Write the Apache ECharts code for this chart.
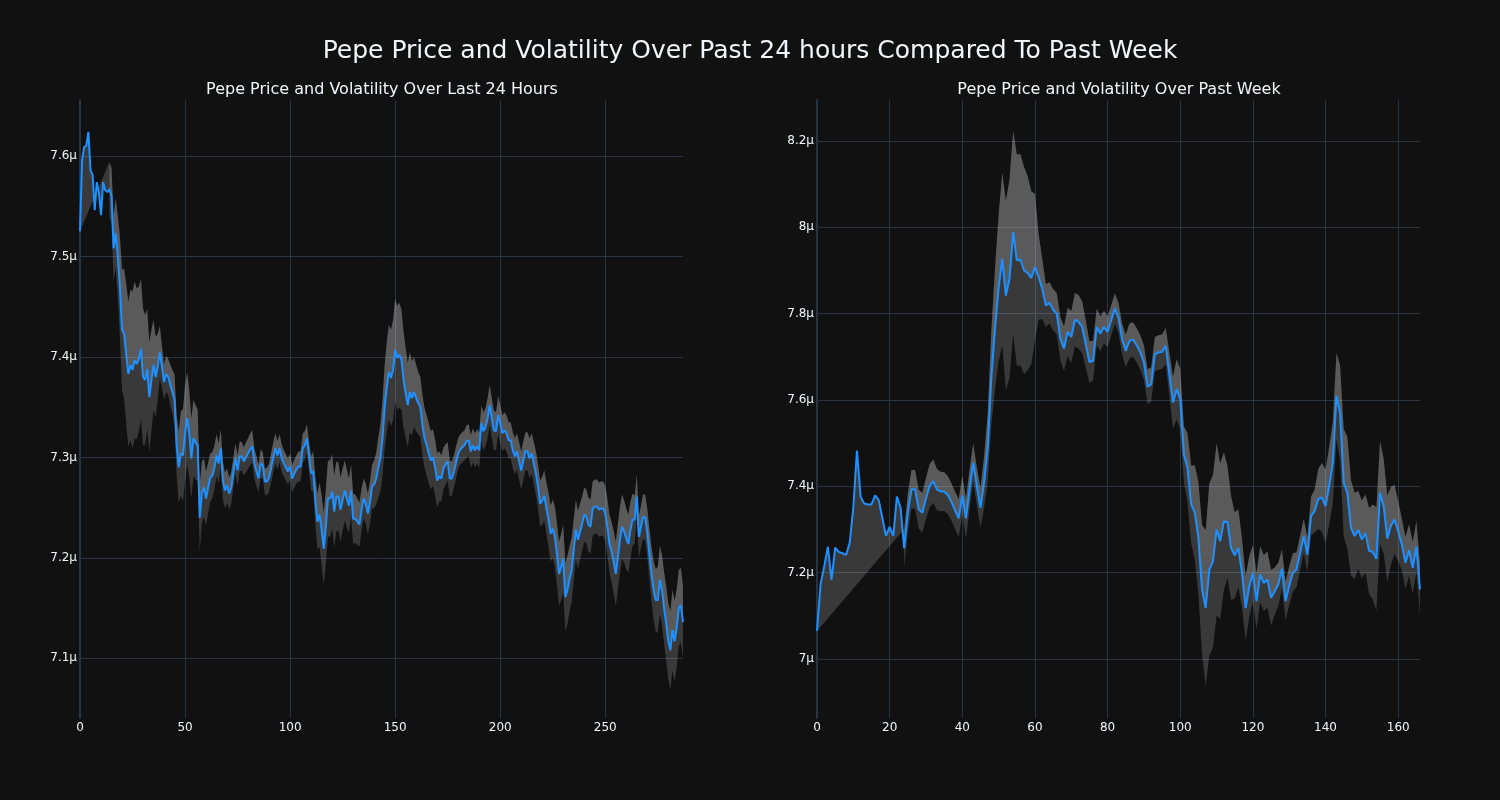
<!DOCTYPE html>
<html>
<head>
<meta charset="utf-8">
<script src="https://cdn.jsdelivr.net/npm/echarts@6/dist/echarts.min.js"></script>
<style>
html,body{margin:0;padding:0;background:#111111;}
#chart{width:1500px;height:800px;}
</style>
</head>
<body>
<div id="chart"></div>
<script>
// ---------------- DATA (price in µ units) ----------------
const mainTitle = 'Pepe Price and Volatility Over Past 24 hours Compared To Past Week';
const dayTitle = 'Pepe Price and Volatility Over Last 24 Hours';
const weekTitle = 'Pepe Price and Volatility Over Past Week';

const dayXTicks = [0, 50, 100, 150, 200, 250];
const weekXTicks = [0, 20, 40, 60, 80, 100, 120, 140, 160];

// Last 24 hours: price (index 0..287)
const dayPrice = [
7.525,7.596,7.609,7.610,7.624,7.586,7.581,7.546,7.574,7.563,
7.541,7.574,7.566,7.564,7.567,7.560,7.508,7.523,7.500,7.470,
7.427,7.423,7.403,7.383,7.392,7.387,7.397,7.393,7.398,7.408,
7.380,7.377,7.388,7.360,7.377,7.392,7.380,7.390,7.405,7.390,
7.375,7.383,7.380,7.372,7.365,7.357,7.312,7.290,7.304,7.302,
7.324,7.339,7.324,7.299,7.319,7.315,7.312,7.240,7.265,7.270,
7.259,7.270,7.280,7.282,7.290,7.302,7.294,7.309,7.277,7.267,
7.272,7.264,7.270,7.285,7.299,7.287,7.301,7.301,7.296,7.300,
7.304,7.308,7.311,7.294,7.286,7.279,7.294,7.292,7.276,7.276,
7.280,7.290,7.300,7.309,7.302,7.309,7.299,7.294,7.290,7.286,
7.291,7.279,7.284,7.288,7.291,7.291,7.309,7.312,7.319,7.301,
7.284,7.286,7.257,7.236,7.243,7.228,7.209,7.231,7.259,7.259,
7.266,7.246,7.261,7.261,7.248,7.258,7.267,7.259,7.252,7.267,
7.239,7.239,7.236,7.233,7.248,7.259,7.254,7.244,7.255,7.271,
7.273,7.279,7.290,7.300,7.320,7.350,7.370,7.385,7.379,7.387,
7.407,7.399,7.402,7.397,7.377,7.364,7.352,7.365,7.359,7.365,
7.359,7.354,7.350,7.332,7.319,7.312,7.304,7.297,7.300,7.290,
7.277,7.281,7.279,7.289,7.293,7.296,7.279,7.279,7.286,7.295,
7.304,7.308,7.310,7.312,7.316,7.317,7.306,7.312,7.307,7.311,
7.307,7.334,7.326,7.330,7.339,7.352,7.339,7.327,7.326,7.342,
7.334,7.324,7.327,7.324,7.317,7.317,7.307,7.301,7.306,7.296,
7.287,7.297,7.306,7.306,7.299,7.304,7.294,7.284,7.271,7.254,
7.257,7.262,7.249,7.238,7.224,7.229,7.221,7.204,7.184,7.191,
7.199,7.161,7.168,7.179,7.188,7.208,7.228,7.218,7.226,7.234,
7.243,7.241,7.233,7.231,7.249,7.251,7.251,7.248,7.249,7.249,
7.244,7.231,7.214,7.206,7.196,7.184,7.201,7.218,7.231,7.226,
7.219,7.214,7.228,7.238,7.238,7.261,7.221,7.231,7.241,7.240,
7.225,7.204,7.184,7.168,7.158,7.158,7.178,7.168,7.150,7.135,
7.117,7.108,7.128,7.117,7.130,7.150,7.153,7.136
];
// Last 24 hours: volatility (band half-width), null before the band starts
const dayVol = [
null,null,null,null,null,null,null,null,null,null,
null,null,null,null,
.027,.028,.032,.035,.04,.05,.06,.065,.07,.072,
.075,.078,.078,.075,.072,.07,.068,.065,.06,.055,
.05,.045,.04,.033,.026,.021,.018,.018,.018,.02,
.022,.026,.03,.036,.042,.046,.048,.046,.043,.04,
.038,.037,.036,.034,.031,.029,.027,.025,.024,.023,
.022,.021,.02,.019,.019,.018,.017,
.016,.016,.015,.015,.015,.015,.014,.014,.015,.015,
.016,.016,.015,.015,.014,.014,.013,.013,.014,.014,
.015,.015,.015,.014,.014,.014,.013,.013,.013,.013,
.014,.014,.014,.015,.015,.015,.014,.014,.015,.017,
.02,.024,.028,.032,.035,.036,.037,.038,.038,.037,
.036,.035,.034,.032,.031,.03,.029,.027,.026,.025,
.024,.023,.022,.021,.02,.02,.02,.021,.022,.024,.026,.03,
.034,.038,.042,.045,.047,.048,.05,.051,.052,.052,.05,.048,.045,.042,.04,.037,
.035,.033,.031,.03,.03,.03,.03,.03,.029,.028,.028,.027,
.025,.023,.021,.02,.019,.018,.017,.016,.016,.015,
.015,.015,.015,.016,.016,.016,.017,.017,.017,.018,
.018,.019,.019,.02,.02,.02,.02,.019,.019,.019,.018,.018,.018,.018,.018,
.018,.018,.018,.019,.019,.019,.019,.019,.02,.02,.021,.022,.022,.023,.024,
.025,.026,.027,.028,.029,.03,.031,.032,.033,.034,.034,.034,.033,.032,.031,
.03,.029,.028,.027,.027,.027,.027,.027,.027,.027,.027,.027,.027,.027,.028,
.028,.029,.03,.031,.032,.033,.033,.032,.031,.03,.029,.028,
.026,.024,.022,.021,.021,.022,.023,.024,.025,.027,
.029,.031,.033,.034,.035,.036,.037,.038,.039,.04,.04,.039,.038,.037,.036
];

// Past week: price (index 0..166)
const weekPrice = [
7.065,7.174,7.215,7.260,7.183,7.258,7.248,7.245,7.241,7.269,
7.351,7.483,7.376,7.360,7.358,7.358,7.379,7.368,7.326,7.285,
7.306,7.285,7.376,7.351,7.256,7.339,7.393,7.393,7.347,7.339,
7.372,7.401,7.412,7.393,7.388,7.388,7.380,7.364,7.345,7.326,
7.379,7.326,7.393,7.455,7.400,7.350,7.410,7.490,7.653,7.765,
7.860,7.927,7.842,7.881,7.989,7.924,7.925,7.900,7.894,7.883,
7.908,7.885,7.858,7.819,7.825,7.809,7.800,7.742,7.719,7.758,
7.746,7.786,7.781,7.769,7.729,7.688,7.691,7.769,7.754,7.769,
7.758,7.785,7.812,7.790,7.741,7.714,7.737,7.740,7.727,7.710,
7.687,7.631,7.636,7.706,7.710,7.712,7.725,7.660,7.594,7.625,
7.602,7.474,7.443,7.358,7.339,7.280,7.161,7.118,7.207,7.226,
7.300,7.273,7.319,7.317,7.257,7.240,7.257,7.199,7.118,7.168,
7.199,7.134,7.196,7.176,7.184,7.142,7.157,7.173,7.209,7.134,
7.170,7.200,7.207,7.246,7.285,7.242,7.331,7.343,7.371,7.374,
7.354,7.401,7.455,7.609,7.571,7.408,7.385,7.304,7.285,7.299,
7.277,7.291,7.250,7.248,7.232,7.385,7.354,7.279,7.309,7.323,
7.296,7.265,7.223,7.252,7.211,7.260,7.161
];
// Past week: volatility (band half-width)
const weekVol = [
null,null,null,null,null,null,null,null,null,null,
null,null,null,null,null,null,null,null,null,null,
null,null,null,null,
.045,.045,.045,.045,.045,.046,
.048,.05,.05,.048,.046,.045,.044,.043,.043,.044,
.045,.046,.046,.045,.044,.046,.06,.08,.11,.14,
.17,.2,.22,.23,.235,.245,.245,.24,.225,.2,
.17,.1,.07,.05,.048,.048,.048,.05,.052,.056,
.06,.062,.062,.06,.055,.048,.046,.043,.04,.038,
.036,.035,.035,.035,.036,.038,.04,.04,.04,.04,
.04,.04,.04,.04,.04,.04,.042,.05,.06,.07,
.07,.065,.08,.09,.11,.13,.15,.18,.2,.2,
.2,.18,.16,.13,.12,.1,.09,.08,.075,.07,
.065,.065,.065,.065,.065,.065,.055,.05,.045,.045,
.045,.045,.04,.04,.04,.04,.045,.05,.07,.08,
.085,.09,.095,.1,.11,.125,.13,.11,.1,.09,
.09,.09,.1,.11,.12,.12,.11,.1,.09,.08,
.07,.06,.06,.06,.06,.06,.06
];

// ---------------- CHART ----------------
const FONT = 'DejaVu Sans';
const TXT = '#f2f5fa';
const GRID = '#283442';
const LINE = '#1E90FF';
const BAND = 'rgba(255,255,255,0.17)';

function bandRenderer(price, vol) {
  return function (params, api) {
    const pricePts = [], upper = [], lower = [];
    for (let i = 0; i < price.length; i++) {
      pricePts.push(api.coord([i, price[i]]));
      if (vol[i] != null) {
        upper.push(api.coord([i, price[i] + vol[i]]));
        lower.push(api.coord([i, price[i] - vol[i]]));
      }
    }
    const polyA = pricePts.concat(upper.slice().reverse());
    const polyB = upper.concat(lower.slice().reverse());
    return {
      type: 'group',
      children: [
        { type: 'polygon', shape: { points: polyA }, style: { fill: BAND } },
        { type: 'polygon', shape: { points: polyB }, style: { fill: BAND } }
      ]
    };
  };
}

function yFmt(v) { return parseFloat(v.toFixed(1)) + 'µ'; }

function xAxisCfg(idx, max, interval) {
  return {
    type: 'value', gridIndex: idx, min: 0, max: max, interval: interval,
    axisLine: { show: false }, axisTick: { show: false },
    axisLabel: { color: TXT, fontFamily: FONT, fontSize: 12, margin: 4, showMaxLabel: false },
    splitLine: { show: true, showMaxLine: false, lineStyle: { color: GRID, width: 1 } }
  };
}
function yAxisCfg(idx, min, max, split) {
  return {
    type: 'value', gridIndex: idx, min: min, max: max, splitNumber: split,
    axisLine: { show: true, lineStyle: { color: GRID, width: 2 } },
    axisTick: { show: false },
    axisLabel: { color: TXT, fontFamily: FONT, fontSize: 12, margin: 3, showMinLabel: false, showMaxLabel: false, formatter: yFmt },
    splitLine: { show: true, showMinLine: false, showMaxLine: false, lineStyle: { color: GRID, width: 1 } }
  };
}

const chart = echarts.init(document.getElementById('chart'), null, { renderer: 'canvas' });
chart.setOption({
  backgroundColor: '#111111',
  animation: false,
  title: [
    { text: mainTitle, left: 745, top: 34, textAlign: 'center',
      textStyle: { color: TXT, fontFamily: FONT, fontSize: 25, fontWeight: 'normal' } },
    { text: dayTitle, left: 377, top: 77, textAlign: 'center',
      textStyle: { color: TXT, fontFamily: FONT, fontSize: 16, fontWeight: 'normal' } },
    { text: weekTitle, left: 1114, top: 77, textAlign: 'center',
      textStyle: { color: TXT, fontFamily: FONT, fontSize: 16, fontWeight: 'normal' } }
  ],
  grid: [
    { left: 80, top: 100, width: 603, height: 618 },
    { left: 817, top: 100, width: 603, height: 618 }
  ],
  xAxis: [xAxisCfg(0, 287, 50), xAxisCfg(1, 166, 20)],
  yAxis: [yAxisCfg(0, 7.0406, 7.6557, 5), yAxisCfg(1, 6.8633, 8.295, 7)],
  series: [
    { type: 'custom', xAxisIndex: 0, yAxisIndex: 0, data: [[0, dayPrice[0]]],
      renderItem: bandRenderer(dayPrice, dayVol), clip: true, silent: true, z: 1 },
    { type: 'line', xAxisIndex: 0, yAxisIndex: 0, data: dayPrice.map((v, i) => [i, v]),
      showSymbol: false, lineStyle: { color: LINE, width: 2 }, itemStyle: { color: LINE }, z: 3 },
    { type: 'custom', xAxisIndex: 1, yAxisIndex: 1, data: [[0, weekPrice[0]]],
      renderItem: bandRenderer(weekPrice, weekVol), clip: true, silent: true, z: 1 },
    { type: 'line', xAxisIndex: 1, yAxisIndex: 1, data: weekPrice.map((v, i) => [i, v]),
      showSymbol: false, lineStyle: { color: LINE, width: 2 }, itemStyle: { color: LINE }, z: 3 }
  ]
});
</script>
</body>
</html>
